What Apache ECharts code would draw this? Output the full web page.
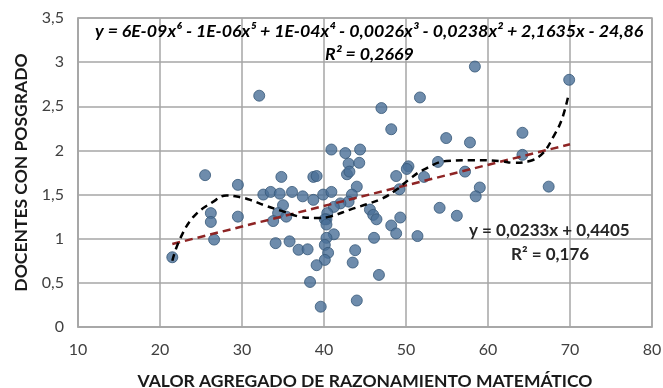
<!DOCTYPE html>
<html>
<head>
<meta charset="utf-8">
<script src="https://cdn.jsdelivr.net/npm/echarts@6/dist/echarts.min.js"></script>
<style>
  html, body { margin: 0; padding: 0; background: #fff; }
  #chart { width: 663px; height: 388px; }
</style>
</head>
<body>
<div id="chart"></div>
<script>
// puntos (valor agregado, docentes con posgrado)
const puntosX = [21.5, 25.5, 26.2, 26.2, 26.6, 29.5, 29.5, 32.1, 32.6, 33.5, 34.6, 36.1, 37.4, 38.7, 39.9, 40.9,
    35.0, 34.4, 33.8, 35.4, 34.1, 35.8, 36.9, 38.0, 34.8, 38.7, 39.1, 40.9, 42.6, 44.4, 43.0, 44.3,
    42.8, 43.1, 44.0, 43.4, 43.0, 42.0, 41.2, 40.4, 40.3, 40.1, 40.3, 41.2, 40.3, 40.1, 40.5, 40.1,
    39.1, 38.3, 39.6, 43.8, 43.5, 44.0, 46.7, 46.1, 45.6, 46.0, 46.4, 48.2, 48.8, 47.0, 48.2, 48.8,
    49.2, 50.3, 50.1, 51.7, 51.4, 52.2, 49.3, 53.9, 54.1, 54.9, 56.2, 57.2, 57.8, 58.4, 59.0, 58.5,
    64.2, 64.2, 67.4, 69.9]
const puntosY = [0.79, 1.72, 1.29, 1.19, 0.99, 1.61, 1.25, 2.62, 1.50, 1.53, 1.51, 1.53, 1.48, 1.44, 1.50, 1.53,
    1.38, 1.29, 1.20, 1.25, 0.95, 0.97, 0.875, 0.88, 1.70, 1.70, 1.71, 2.01, 1.97, 2.01, 1.85, 1.86,
    1.73, 1.76, 1.59, 1.50, 1.42, 1.40, 1.36, 1.29, 1.22, 1.22, 1.16, 1.05, 1.01, 0.93, 0.84, 0.76,
    0.70, 0.51, 0.23, 0.87, 0.73, 0.30, 0.59, 1.01, 1.33, 1.27, 1.22, 1.15, 1.06, 2.48, 2.24, 1.71,
    1.56, 1.82, 1.79, 2.60, 1.03, 1.70, 1.24, 1.87, 1.35, 2.14, 1.26, 1.76, 2.09, 2.95, 1.58, 1.48,
    2.20, 1.95, 1.59, 2.80]

// tendencia polinomica (orden 6)
const polyX = [21.5, 22.4, 24.1, 26.5, 28.1, 29.8, 31.0, 33.0, 35.0, 37.0, 39.0, 40.7, 43.2, 45.2, 47.2,
    48.9, 50.5, 52.1, 54.9, 58.2, 61.5, 63.1, 65.1, 66.7, 68.0, 69.0, 69.8]
const polyY = [0.75, 0.99, 1.25, 1.42, 1.49, 1.47, 1.44, 1.37, 1.31, 1.25, 1.235, 1.25, 1.33, 1.39, 1.46,
    1.56, 1.68, 1.78, 1.88, 1.89, 1.88, 1.86, 1.88, 1.97, 2.16, 2.35, 2.62]

// tendencia lineal
const linX = [21.5, 70]
const linY = [0.94, 2.07]

const xTicks = [10, 20, 30, 40, 50, 60, 70, 80]
const yTicks = [0, 0.5, 1, 1.5, 2, 2.5, 3, 3.5]

const fuente = "Lato, 'Noto Sans', sans-serif"
const gris = '#a6a6a6'

const chart = echarts.init(document.getElementById('chart'))

function fmt(v) {
    return String(v).replace('.', ',')
}

const option = {
    backgroundColor: '#fff',
    animation: false,
    grid: { left: 78, right: 11, top: 18, bottom: 61, outerBoundsMode: 'none' },
    xAxis: {
        type: 'value',
        min: xTicks[0],
        max: xTicks[xTicks.length - 1],
        interval: 10,
        name: 'VALOR AGREGADO DE RAZONAMIENTO MATEMÁTICO',
        nameLocation: 'middle',
        nameGap: 45,
        nameTextStyle: { fontFamily: fuente, fontSize: 17.5, fontWeight: 'bold', color: '#1a1a1a' },
        axisLine: { lineStyle: { color: gris, width: 1.5 } },
        axisTick: { show: false },
        axisLabel: { fontFamily: fuente, fontSize: 16, color: '#404040', margin: 15, formatter: fmt },
        splitLine: { show: true, lineStyle: { color: gris, width: 1.5 } }
    },
    yAxis: {
        type: 'value',
        min: yTicks[0],
        max: yTicks[yTicks.length - 1],
        interval: 0.5,
        name: 'DOCENTES CON POSGRADO',
        nameLocation: 'middle',
        nameGap: 48,
        nameTextStyle: { fontFamily: fuente, fontSize: 17.5, fontWeight: 'bold', color: '#1a1a1a' },
        axisLine: { show: true, lineStyle: { color: gris, width: 1.5 } },
        axisTick: { show: false },
        axisLabel: { fontFamily: fuente, fontSize: 16, color: '#404040', margin: 14, formatter: fmt },
        splitLine: { show: true, lineStyle: { color: gris, width: 1.5 } }
    },
    graphic: [
        {
            type: 'rect', silent: true, z: 1,
            shape: { x: 78, y: 18, width: 574, height: 309 },
            style: { fill: 'none', stroke: gris, lineWidth: 1.5 }
        },
        {
            type: 'text', left: 95, top: 22, z: 100,
            style: {
                text: 'y = 6E-09x⁶ - 1E-06x⁵ + 1E-04x⁴ - 0,0026x³ - 0,0238x² + 2,1635x - 24,86',
                font: "italic bold 17.8px " + fuente, fill: '#000'
            }
        },
        {
            type: 'text', left: 325, top: 45, z: 100,
            style: { text: 'R² = 0,2669', font: "italic bold 17.8px " + fuente, fill: '#000' }
        },
        {
            type: 'text', left: 469, top: 222, z: 100,
            style: { text: 'y = 0,0233x + 0,4405', font: "bold 17px " + fuente, fill: '#262626' }
        },
        {
            type: 'text', left: 511, top: 246, z: 100,
            style: { text: 'R² = 0,176', font: "bold 17px " + fuente, fill: '#262626' }
        }
    ],
    series: [
        {
            type: 'scatter',
            data: puntosX.map((x, i) => [x, puntosY[i]]),
            symbolSize: 11,
            itemStyle: { color: '#4a6f97', borderColor: '#365778', borderWidth: 1 },
            z: 2
        },
        {
            type: 'line',
            data: linX.map((x, i) => [x, linY[i]]),
            showSymbol: false,
            lineStyle: { color: '#8e2424', width: 2.5, type: [8, 5] },
            z: 3
        },
        {
            type: 'line',
            data: polyX.map((x, i) => [x, polyY[i]]),
            smooth: 0.4,
            showSymbol: false,
            lineStyle: { color: '#000', width: 2.5, type: [7, 5] },
            z: 4
        }
    ]
}

chart.setOption(option)
</script>
</body>
</html>
